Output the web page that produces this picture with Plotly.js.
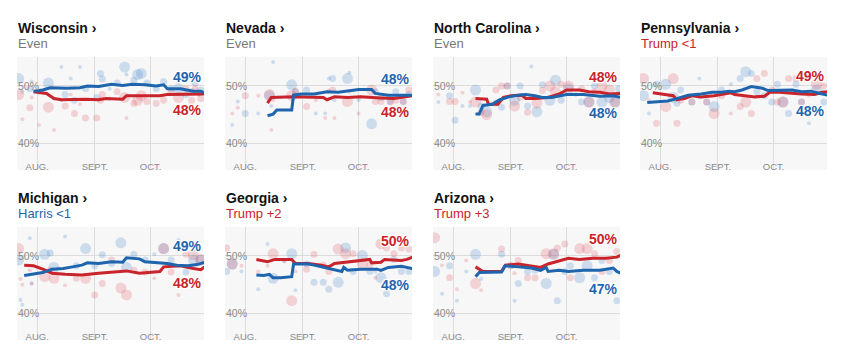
<!DOCTYPE html>
<html><head><meta charset="utf-8">
<script src="https://cdn.plot.ly/plotly-3.0.1.min.js"></script>
<style>html,body{margin:0;padding:0;background:#fff}#chart{width:855px;height:352px}</style>
</head><body><div id="chart"></div>
<script>
// ---------- DATA ----------
const states = ['Wisconsin','Nevada','North Carolina','Pennsylvania','Michigan','Georgia','Arizona'];
const margins = ['Even','Even','Even','Trump <1','Harris <1','Trump +2','Trump +3'];
const leaders = ['none','none','none','Trump','Harris','Trump','Trump'];
const harrisEndLabels = ['49%','48%','48%','48%','49%','48%','47%'];
const trumpEndLabels = ['48%','48%','48%','49%','48%','50%','50%'];
const monthTickDates = ['08-01','09-01','10-01'];
const monthTickLabels = ['AUG.','SEPT.','OCT.'];
const pctTickValues = [40,50];
const pctTickLabels = ['40%','50%'];

// Wisconsin
const wiHarrisDates = ['07-30','08-04','08-08','08-17','08-24','08-28','09-03','09-10','09-16','09-21','09-28','10-04','10-08','10-10','10-17','10-24','10-28','10-30'];
const wiHarrisLine = [49.1,49.3,49.7,49.6,49.7,50.0,49.9,50.3,50.1,50.3,50.2,50.0,50.2,49.5,49.5,49.1,49.1,48.8];
const wiTrumpDates = ['07-30','08-06','08-10','08-14','08-27','09-03','09-07','09-16','09-18','09-25','10-06','10-10','10-21','10-28','10-30'];
const wiTrumpLine = [49.0,48.7,47.8,47.6,47.7,47.6,47.8,47.7,48.3,48.3,48.3,48.5,48.6,48.7,48.6];
const wiPollDates = ['07-22','07-24','07-28','07-29','08-02','08-07','08-10','08-14','08-16','08-19','08-21','08-24','08-27','09-02','09-04','09-05','09-09','09-13','09-17','09-18','09-22','09-24','09-26','09-29','10-04','10-08','10-12','10-16','10-20','10-23','10-25','10-27','10-28'];
const wiPollHarris = [51.3,49.0,49.5,50.8,48.8,50.5,47.8,53.3,48.5,51.3,47.5,53.3,49.5,48.0,52.2,51.2,49.5,50.5,53.3,52.0,51.0,52.0,52.2,50.5,49.5,50.8,49.5,49.5,48.5,49.0,50.5,48.5,49.3];
const wiPollTrump = [48.5,44.2,46.2,48.0,43.2,46.3,42.3,47.5,46.5,48.5,45.2,46.8,44.4,44.4,47.5,48.5,47.8,49.0,48.0,44.4,47.0,47.5,48.3,47.3,47.0,47.5,49.0,48.0,49.5,47.5,49.5,48.5,47.8];
const wiPollWeight = [3,1,2,1,1,3,1,1,2,1,2,1,2,2,2,2,1,2,3,1,2,3,3,2,2,2,2,3,2,2,2,1,2];

// Nevada
const nvHarrisDates = ['08-13','08-16','08-18','08-26','08-27','08-31','09-07','09-11','09-14','09-20','09-25','09-27','10-01','10-08','10-10','10-17','10-30'];
const nvHarrisLine = [44.8,45.1,45.8,45.8,48.4,48.6,48.6,48.8,49.0,48.9,49.1,49.3,49.4,49.4,48.7,48.4,48.4];
const nvTrumpDates = ['08-13','08-15','08-27','09-07','09-12','09-14','09-18','09-25','10-02','10-13','10-20','10-30'];
const nvTrumpLine = [47.0,48.0,48.1,48.1,48.0,47.6,48.1,48.0,48.1,47.9,47.8,48.3];
const nvPollDates = ['07-25','07-28','08-01','08-08','08-14','08-15','08-16','08-26','08-28','09-03','09-08','09-13','09-15','09-17','09-18','09-25','09-26','10-01','10-08','10-10','10-13','10-18','10-21','10-25','10-28'];
const nvPollHarris = [43.2,47.3,45.2,45.2,48.3,46.5,54.2,50.2,49.0,49.3,45.2,45.2,51.3,51.3,47.5,51.3,52.3,47.5,43.4,49.0,48.0,47.3,49.0,47.3,48.5];
const nvPollTrump = [45.2,46.2,48.3,48.3,48.5,42.3,47.5,48.3,49.1,46.4,47.5,44.4,49.2,49.3,44.4,47.3,49.0,45.2,49.3,47.3,47.3,47.3,47.5,47.3,49.3];
const nvPollWeight = [1,1,2,1,3,1,1,3,2,2,1,1,1,2,1,3,1,1,3,2,2,2,2,2,2];

// North Carolina
const ncHarrisDates = ['08-13','08-15','08-17','08-22','08-26','08-31','09-05','09-09','09-14','09-18','09-23','09-27','10-01','10-10','10-15','10-19','10-26','10-30'];
const ncHarrisLine = [45.1,45.1,46.6,46.8,47.6,48.1,48.4,48.5,48.3,48.0,48.0,48.3,48.5,48.5,48.3,48.2,48.3,48.0];
const ncTrumpDates = ['08-13','08-19','08-20','08-25','08-28','09-01','09-07','09-09','09-14','09-21','09-27','10-01','10-08','10-13','10-19','10-24','10-30'];
const ncTrumpLine = [47.8,47.7,46.8,46.8,48.0,48.3,48.4,47.8,47.8,48.0,48.6,49.3,49.3,49.0,48.9,48.6,48.7];
const ncPollDates = ['07-24','07-30','08-02','08-06','08-10','08-13','08-16','08-19','08-24','08-27','08-30','09-03','09-06','09-10','09-12','09-15','09-18','09-22','09-25','09-28','10-02','10-06','10-09','10-13','10-16','10-20','10-24','10-27','10-29'];
const ncPollHarris = [47.2,48.3,44.0,46.5,46.5,49.3,46.5,45.5,47.0,46.3,50.0,47.5,50.0,46.5,53.4,45.5,50.2,47.5,51.0,47.5,49.5,48.5,47.2,47.2,50.0,47.2,48.0,47.2,49.5];
const ncPollTrump = [48.5,47.3,47.3,48.8,47.2,47.2,45.4,45.0,49.3,50.0,50.0,46.5,48.0,45.4,48.2,47.0,49.2,50.0,49.0,50.3,50.0,48.5,49.5,47.2,49.0,50.0,49.3,47.2,48.5];
const ncPollWeight = [1,2,2,1,1,3,2,3,2,2,2,3,2,2,1,3,2,3,3,2,3,1,2,3,2,3,3,3,2];

// Pennsylvania
const paHarrisDates = ['07-25','07-31','08-05','08-09','08-13','08-16','08-23','08-29','09-03','09-07','09-10','09-14','09-19','09-25','09-28','10-05','10-11','10-16','10-21','10-26','10-30'];
const paHarrisLine = [47.1,47.2,47.4,47.7,48.1,48.4,48.6,48.9,48.9,49.1,49.0,49.3,49.9,49.6,49.2,49.3,49.3,49.0,49.1,48.7,48.4];
const paTrumpDates = ['07-28','08-03','08-08','08-10','08-14','08-18','08-23','08-30','09-05','09-08','09-10','09-16','09-21','09-26','09-29','10-04','10-11','10-16','10-23','10-27','10-30'];
const paTrumpLine = [48.8,48.5,48.3,47.6,47.8,48.3,48.1,48.3,48.6,48.8,48.5,48.3,48.1,48.2,48.9,48.9,48.7,48.6,48.5,48.9,49.0];
const paPollDates = ['07-23','07-26','07-30','08-04','08-08','08-10','08-12','08-18','08-22','08-26','08-30','09-03','09-08','09-13','09-16','09-19','09-22','09-26','09-30','10-03','10-06','10-09','10-13','10-16','10-20','10-24','10-28'];
const paPollHarris = [48.3,45.2,50.3,50.3,48.0,47.0,49.3,47.2,51.3,47.2,46.4,49.3,50.3,51.3,52.5,52.2,49.0,48.3,47.2,50.3,47.2,45.2,50.3,47.2,43.5,49.3,47.2];
const paPollTrump = [51.3,47.5,43.5,46.4,51.3,43.5,47.5,47.2,48.0,47.2,45.2,48.3,45.2,46.4,47.2,45.2,51.3,52.2,49.3,47.2,47.2,51.3,51.3,47.2,48.3,50.3,50.0];
const paPollWeight = [3,1,2,3,3,2,2,2,1,2,3,2,1,2,3,2,2,2,2,2,3,2,2,2,1,3,2];

// Michigan
const miHarrisDates = ['07-25','07-30','08-04','08-09','08-15','08-20','08-25','08-28','09-03','09-10','09-16','09-18','09-25','09-28','10-04','10-10','10-15','10-21','10-26','10-30'];
const miHarrisLine = [46.6,46.8,47.1,47.7,47.8,48.1,48.4,48.8,48.7,49.0,48.9,49.7,49.5,49.0,48.8,48.7,48.4,48.3,48.5,48.9];
const miTrumpDates = ['07-25','07-30','08-04','08-09','08-16','08-25','09-03','09-10','09-18','09-25','10-01','10-06','10-08','10-17','10-24','10-28','10-30'];
const miTrumpLine = [48.4,48.3,47.7,47.0,46.8,46.7,47.0,47.2,47.4,47.0,47.2,47.3,48.1,48.3,47.8,47.6,48.1];
const miPollDates = ['07-22','07-23','07-24','07-28','07-29','08-05','08-08','08-10','08-16','08-22','08-27','09-01','09-05','09-10','09-15','09-18','09-22','09-28','10-03','10-08','10-12','10-16','10-20','10-24','10-28'];
const miPollHarris = [49.3,42.3,41.5,53.1,45.2,50.3,50.5,48.0,53.4,48.3,51.3,48.3,50.2,48.7,52.3,48.0,50.3,49.3,50.3,51.3,49.3,52.8,47.2,49.3,49.3];
const miPollTrump = [51.3,46.0,45.0,47.5,45.2,46.4,47.5,46.1,44.9,46.1,46.1,43.2,45.2,49.3,44.4,43.2,47.5,47.2,46.1,51.3,47.2,43.2,50.3,50.2,49.3];
const miPollWeight = [3,1,1,1,1,3,2,3,1,2,3,2,2,2,3,3,2,2,1,3,2,1,2,3,3];

// Georgia
const gaHarrisDates = ['08-07','08-11','08-14','08-16','08-20','08-26','08-27','09-04','09-07','09-11','09-14','09-18','09-22','09-23','09-25','10-02','10-11','10-13','10-17','10-24','10-27','10-30'];
const gaHarrisLine = [46.7,46.6,46.8,46.2,46.2,46.4,48.6,48.6,48.4,48.1,47.9,47.7,47.3,48.0,47.5,47.7,47.7,47.5,48.0,48.2,48.0,47.8];
const gaTrumpDates = ['08-07','08-13','08-17','08-26','08-28','09-04','09-11','09-15','09-18','09-25','10-02','10-07','10-08','10-13','10-15','10-24','10-27','10-30'];
const gaTrumpLine = [49.4,49.0,49.4,49.4,48.7,48.7,48.4,48.1,48.7,49.0,49.2,49.4,48.8,48.9,49.4,49.2,49.4,49.8];
const gaPollDates = ['07-22','07-25','07-30','08-08','08-13','08-16','08-22','08-26','08-28','09-03','09-07','09-12','09-15','09-20','09-24','09-28','10-03','10-07','10-10','10-13','10-16','10-20','10-24','10-28'];
const gaPollHarris = [47.3,48.6,47.3,44.2,52.1,46.1,49.1,50.4,44.0,48.6,45.4,45.4,44.2,45.4,51.4,47.3,50.1,47.3,47.3,46.2,43.4,49.4,47.3,47.3];
const gaPollTrump = [51.4,48.6,48.3,47.3,48.3,50.4,49.1,42.2,47.3,47.7,50.3,48.4,47.3,51.2,50.4,50.4,48.6,48.4,46.2,52.1,51.4,50.4,51.4,51.2];
const gaPollWeight = [2,3,1,1,1,3,1,3,1,2,2,2,2,3,3,2,3,2,1,3,2,2,2,2];

// Arizona
const azHarrisDates = ['08-13','08-15','08-27','08-29','09-05','09-12','09-17','09-20','09-21','09-27','10-02','10-10','10-19','10-26','10-28','10-30'];
const azHarrisLine = [46.4,47.1,47.2,48.3,48.1,47.9,47.5,48.0,47.3,47.5,47.3,47.5,47.5,47.9,47.3,47.0];
const azTrumpDates = ['08-13','08-17','08-27','08-29','09-05','09-12','09-17','09-21','09-27','10-02','10-08','10-15','10-22','10-28','10-30'];
const azTrumpLine = [48.1,47.3,47.3,48.4,48.6,48.3,48.0,48.6,49.1,49.6,49.4,49.6,49.6,49.8,50.1];
const azPollDates = ['07-22','07-26','07-30','08-03','08-08','08-13','08-16','08-27','09-01','09-03','09-05','09-10','09-14','09-20','09-24','09-26','09-30','10-03','10-08','10-12','10-16','10-20','10-24','10-28'];
const azPollHarris = [47.3,43.4,48.3,42.2,47.3,50.3,46.0,50.3,48.3,42.2,45.2,47.3,47.5,45.2,50.3,42.2,47.3,48.3,46.2,48.3,46.2,49.2,47.3,42.2];
const azPollTrump = [53.2,48.4,46.2,44.2,49.2,45.2,44.0,51.2,48.3,47.0,49.2,46.2,46.2,50.4,50.4,51.4,52.1,46.2,51.3,51.3,50.4,47.3,49.2,50.8];
const azPollWeight = [3,1,2,1,1,3,1,2,2,1,2,2,2,3,3,2,2,2,3,3,2,2,2,2];

// ---------- BUILD ----------
const panels = [
  [wiHarrisDates,wiHarrisLine,wiTrumpDates,wiTrumpLine,wiPollDates,wiPollHarris,wiPollTrump,wiPollWeight],
  [nvHarrisDates,nvHarrisLine,nvTrumpDates,nvTrumpLine,nvPollDates,nvPollHarris,nvPollTrump,nvPollWeight],
  [ncHarrisDates,ncHarrisLine,ncTrumpDates,ncTrumpLine,ncPollDates,ncPollHarris,ncPollTrump,ncPollWeight],
  [paHarrisDates,paHarrisLine,paTrumpDates,paTrumpLine,paPollDates,paPollHarris,paPollTrump,paPollWeight],
  [miHarrisDates,miHarrisLine,miTrumpDates,miTrumpLine,miPollDates,miPollHarris,miPollTrump,miPollWeight],
  [gaHarrisDates,gaHarrisLine,gaTrumpDates,gaTrumpLine,gaPollDates,gaPollHarris,gaPollTrump,gaPollWeight],
  [azHarrisDates,azHarrisLine,azTrumpDates,azTrumpLine,azPollDates,azPollHarris,azPollTrump,azPollWeight]
];

const W = 855, H = 352;
const BLUE = '#1f65ae', RED = '#c9232b', GRAY = '#777';
const DOT_BLUE = 'rgba(60,125,200,0.32)', DOT_RED = 'rgba(222,70,78,0.30)';
const FONT = 'Liberation Sans, Arial, sans-serif';
const colLeft = [17,225,433,640,17,225,433];
const rowTop = [56.7,56.7,56.7,56.7,226.7,226.7,226.7];
const panelW = 187, panelH = 113.3;
const dotSize = w => [0,4,7,11][w];
const d = s => '2024-' + s;

const traces = [];
const layout = {
  width: W, height: H,
  margin: {l:0, r:0, t:0, b:0},
  paper_bgcolor: '#ffffff',
  plot_bgcolor: '#f7f7f7',
  showlegend: false,
  font: {family: FONT, color: '#333'},
  annotations: []
};

panels.forEach((p, i) => {
  const [hd, hv, td, tv, pd, ph, pt, pw] = p;
  const s = i === 0 ? '' : String(i + 1);
  const xa = 'x' + s, ya = 'y' + s;
  const sizes = pw.map(dotSize);
  const pdates = pd.map(d);

  traces.push({type:'scatter', mode:'markers', x: pdates, y: ph, xaxis: xa, yaxis: ya,
    marker:{size: sizes, color: DOT_BLUE, line:{width:0}}, hoverinfo:'skip'});
  traces.push({type:'scatter', mode:'markers', x: pdates, y: pt, xaxis: xa, yaxis: ya,
    marker:{size: sizes, color: DOT_RED, line:{width:0}}, hoverinfo:'skip'});
  traces.push({type:'scatter', mode:'lines', x: td.map(d), y: tv, xaxis: xa, yaxis: ya,
    line:{color: RED, width: 3}, hoverinfo:'skip'});
  traces.push({type:'scatter', mode:'lines', x: hd.map(d), y: hv, xaxis: xa, yaxis: ya,
    line:{color: BLUE, width: 3}, hoverinfo:'skip'});
  const hLastX = d(hd[hd.length-1]), hLastY = hv[hv.length-1];
  const tLastX = d(td[td.length-1]), tLastY = tv[tv.length-1];
  traces.push({type:'scatter', mode:'markers', x:[tLastX], y:[tLastY], xaxis: xa, yaxis: ya,
    cliponaxis:false, marker:{size:7, color: RED}, hoverinfo:'skip'});
  traces.push({type:'scatter', mode:'markers', x:[hLastX], y:[hLastY], xaxis: xa, yaxis: ya,
    cliponaxis:false, marker:{size:7, color: BLUE}, hoverinfo:'skip'});

  const left = colLeft[i], top = rowTop[i];
  layout['xaxis' + s] = {
    domain: [left / W, (left + panelW) / W],
    anchor: ya, type: 'date',
    range: ['2024-07-21 03:00', '2024-10-29 17:00'],
    tickvals: monthTickDates.map(d), ticktext: monthTickLabels,
    ticklabelposition: 'outside', ticks: '', ticklabelstandoff: -11,
    tickfont: {family: FONT, size: 9.5, color: '#8a8a8a'},
    showgrid: true, gridcolor: '#dcdcdc', gridwidth: 1,
    zeroline: false, showline: false, fixedrange: true
  };
  layout['yaxis' + s] = {
    domain: [1 - (top + panelH) / H, 1 - top / H],
    anchor: xa,
    range: [35.34, 55.11],
    tickvals: pctTickValues, ticktext: pctTickLabels,
    ticklabelposition: 'outside', ticks: '', ticklabelstandoff: -23,
    tickfont: {family: FONT, size: 10.5, color: '#8a8a8a'},
    showgrid: true, gridcolor: '#dcdcdc', gridwidth: 1,
    zeroline: false, showline: false, fixedrange: true
  };

  // Panel title + subtitle
  layout.annotations.push({
    xref: xa + ' domain', yref: ya + ' domain', x: 0, y: 1, xanchor: 'left', yanchor: 'middle',
    yshift: 29, xshift: -1, showarrow: false,
    text: '<b>' + states[i] + ' ›</b>',
    font: {family: FONT, size: 14, color: '#121212'}
  });
  const subColor = leaders[i] === 'Trump' ? RED : (leaders[i] === 'Harris' ? BLUE : GRAY);
  layout.annotations.push({
    xref: xa + ' domain', yref: ya + ' domain', x: 0, y: 1, xanchor: 'left', yanchor: 'middle',
    yshift: 13, xshift: -1, showarrow: false,
    text: margins[i],
    font: {family: FONT, size: 13, color: subColor}
  });

  // End labels, right-aligned to the panel edge at the final line values
  const harrisTop = hLastY >= tLastY;
  const halo = '1px 1px 1px #fff, -1px -1px 1px #fff, 1px -1px 1px #fff, -1px 1px 1px #fff';
  layout.annotations.push({
    xref: xa + ' domain', yref: ya, x: 1, y: hLastY, xanchor: 'right', yanchor: 'middle',
    yshift: harrisTop ? 16 : -16, xshift: 0, showarrow: false,
    text: '<b>' + harrisEndLabels[i] + '</b>',
    font: {family: FONT, size: 14, color: BLUE, shadow: halo}
  });
  layout.annotations.push({
    xref: xa + ' domain', yref: ya, x: 1, y: tLastY, xanchor: 'right', yanchor: 'middle',
    yshift: harrisTop ? -16 : 16, xshift: 0, showarrow: false,
    text: '<b>' + trumpEndLabels[i] + '</b>',
    font: {family: FONT, size: 14, color: RED, shadow: halo}
  });
});

Plotly.newPlot('chart', traces, layout, {staticPlot: true, displayModeBar: false});
</script>
</body></html>
